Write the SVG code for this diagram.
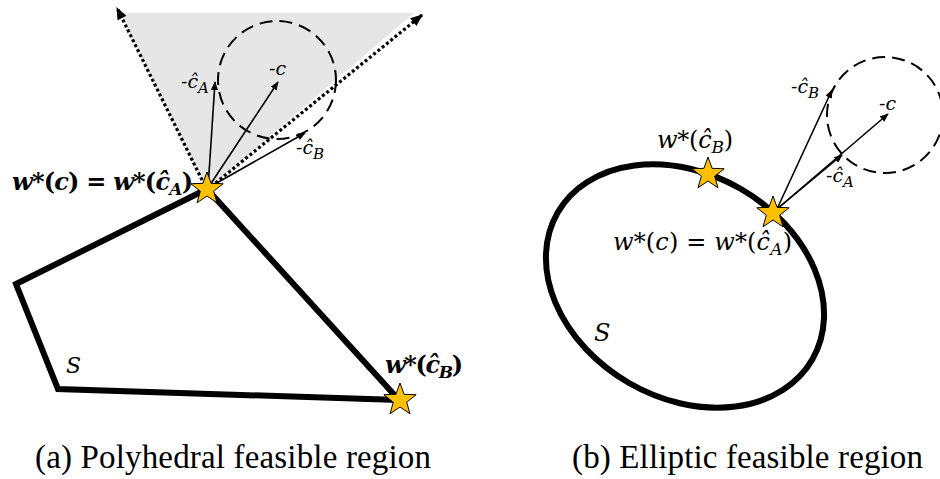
<svg xmlns="http://www.w3.org/2000/svg" width="940" height="479" viewBox="0 0 940 479">
<style>
.m{font-style:italic;fill:#000}
.u{font-style:normal}
.big{font-size:24px}
.bold{font-weight:bold}
.sm{font-size:19px}
.cap{font-size:33px;fill:#000}
.thick{fill:none;stroke:#000;stroke-width:6;stroke-linejoin:miter}
.dot{fill:none;stroke:#000;stroke-width:3.2;stroke-dasharray:3 2.5}
.dash{fill:none;stroke:#000;stroke-width:2;stroke-dasharray:13 7}
.arr{fill:none;stroke:#000;stroke-width:1.6}
.star{fill:#FFC000;stroke:#000;stroke-width:1}
</style>
<defs>
<marker id="ah" viewBox="0 0 10 8" refX="9" refY="4" markerWidth="9" markerHeight="7" markerUnits="userSpaceOnUse" orient="auto">
<path d="M0,0 L10,4 L0,8 Z" fill="#000"/>
</marker>
<marker id="ahd" viewBox="0 0 10 8" refX="9" refY="4" markerWidth="13" markerHeight="10" markerUnits="userSpaceOnUse" orient="auto">
<path d="M0,0 L10,4 L0,8 Z" fill="#000"/>
</marker>
<polygon id="star" points="0,-17 4.11,-5.66 16.17,-5.25 6.66,2.16 9.99,13.75 0,7 -9.99,13.75 -6.66,2.16 -16.17,-5.25 -4.11,-5.66"/>
</defs>

<!-- Panel (a) -->
<g id="cone">
<polygon points="207,190 120,13 414,13" fill="#e6e6e6"/>
</g>
<g id="circleA">
<circle cx="277" cy="80" r="59" class="dash"/>
</g>
<g id="polyS">
<polygon points="207,189 16,284 58,389 399,400" class="thick"/>
</g>
<g id="connectorsA">
<line x1="207" y1="190" x2="117" y2="8" class="dot" marker-end="url(#ahd)"/>
<line x1="207" y1="190" x2="422" y2="15" class="dot" marker-end="url(#ahd)"/>
<line x1="208" y1="188" x2="215" y2="82" class="arr" marker-end="url(#ah)"/>
<line x1="208" y1="188" x2="278" y2="82" class="arr" marker-end="url(#ah)"/>
<line x1="208" y1="188" x2="305" y2="133" class="arr" marker-end="url(#ah)"/>
</g>
<g id="starA1"><use href="#star" class="star" transform="translate(207,189)"/></g>
<g id="starB1"><use href="#star" class="star" transform="translate(400,400)"/></g>
<g id="labelsA" font-family="'DejaVu Serif', serif">
<text class="m big bold" x="12" y="190" textLength="181">w<tspan class="u">*(</tspan>c<tspan class="u">) = </tspan>w<tspan class="u">*(</tspan>ĉ<tspan dy="5" font-size="17">A</tspan><tspan class="u" dy="-5">)</tspan></text>
<text class="m big bold" x="385" y="373" textLength="78">w<tspan class="u">*(</tspan>ĉ<tspan dy="5" font-size="17">B</tspan><tspan class="u" dy="-5">)</tspan></text>
<text class="m sm" x="181" y="88"><tspan class="u">-</tspan>ĉ<tspan dy="5" font-size="15">A</tspan></text>
<text class="m sm" x="269" y="75"><tspan class="u">-</tspan>c</text>
<text class="m sm" x="296" y="154"><tspan class="u">-</tspan>ĉ<tspan dy="5" font-size="15">B</tspan></text>
<text class="m" font-size="22" x="66" y="373">S</text>
</g>

<!-- Panel (b) -->
<g id="ellipseS">
<ellipse cx="685" cy="286" rx="147" ry="112" transform="rotate(30 685 286)" class="thick"/>
</g>
<g id="circleB">
<circle cx="885" cy="115" r="58" class="dash"/>
</g>
<g id="connectorsB">
<line x1="777" y1="209" x2="832" y2="90" class="arr" marker-end="url(#ah)"/>
<line x1="777" y1="209" x2="888" y2="114" class="arr" marker-end="url(#ah)"/>
<line x1="777" y1="209" x2="842" y2="155" class="arr" marker-end="url(#ah)"/>
</g>
<g id="starB2"><use href="#star" class="star" transform="translate(708,174)"/></g>
<g id="starA2"><use href="#star" class="star" transform="translate(773,213)"/></g>
<g id="labelsB" font-family="'DejaVu Serif', serif">
<text class="m big" x="657" y="148" textLength="76">w<tspan class="u">*(</tspan>ĉ<tspan dy="5" font-size="17">B</tspan><tspan class="u" dy="-5">)</tspan></text>
<text class="m big" x="613" y="250" textLength="179">w<tspan class="u">*(</tspan>c<tspan class="u">) = </tspan>w<tspan class="u">*(</tspan>ĉ<tspan dy="5" font-size="17">A</tspan><tspan class="u" dy="-5">)</tspan></text>
<text class="m sm" x="791" y="93"><tspan class="u">-</tspan>ĉ<tspan dy="5" font-size="15">B</tspan></text>
<text class="m sm" x="879" y="110"><tspan class="u">-</tspan>c</text>
<text class="m sm" x="826" y="182"><tspan class="u">-</tspan>ĉ<tspan dy="5" font-size="15">A</tspan></text>
<text class="m" font-size="24" x="594" y="341">S</text>
</g>

<g id="captions" font-family="'Liberation Serif', 'Times New Roman', serif">
<text class="cap" x="35" y="468" textLength="396">(a) Polyhedral feasible region</text>
<text class="cap" x="572" y="468" textLength="351">(b) Elliptic feasible region</text>
</g>
</svg>
